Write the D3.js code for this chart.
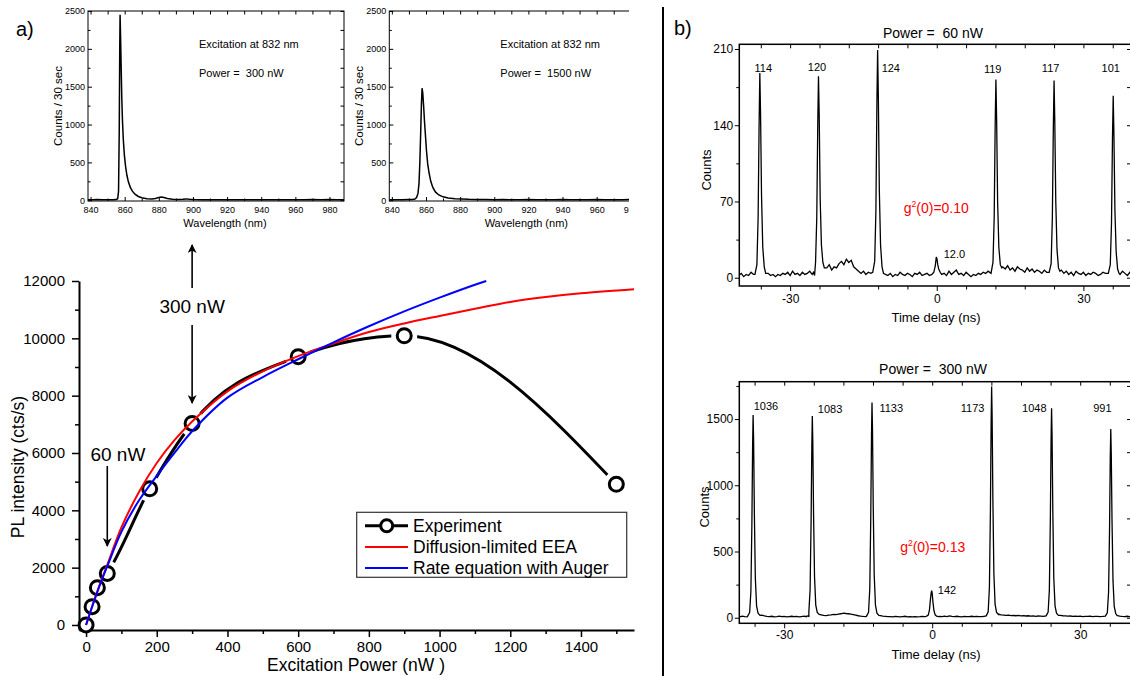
<!DOCTYPE html>
<html><head><meta charset="utf-8">
<script src="https://cdn.jsdelivr.net/npm/d3@7"></script>
<style>body{margin:0;background:#fff} text{font-family:"Liberation Sans",Arial,sans-serif;fill:#000;white-space:pre}</style>
</head><body><svg id="c" width="1130" height="676"></svg>
<script>
// ---------------- DATA ----------------
// Main panel a): PL intensity vs excitation power
const expPower = [0, 17, 32, 60, 180, 300, 600, 900, 1500];
const expPL    = [0, 640, 1300, 1800, 4750, 7030, 9360, 10090, 4910];
const eeaPower = [0, 20, 40, 60, 100, 150, 200, 250, 300, 400, 500, 600, 700, 800, 900, 1000, 1100, 1200, 1300, 1400, 1550];
const eeaPL    = [0, 750, 1450, 2100, 3400, 4650, 5650, 6450, 7100, 8150, 8850, 9380, 9820, 10220, 10520, 10780, 11030, 11270, 11440, 11570, 11710];
const augPower = [0, 20, 40, 60, 100, 150, 200, 250, 300, 400, 500, 600, 700, 800, 900, 1000, 1100, 1132];
const augPL    = [0, 740, 1430, 2050, 3250, 4350, 5200, 6000, 6760, 7930, 8650, 9270, 9860, 10420, 10940, 11420, 11870, 12000];
const powerTicks = [0, 200, 400, 600, 800, 1000, 1200, 1400];
const powerMinor = [100, 300, 500, 700, 900, 1100, 1300, 1500];
const plTicks = [0, 2000, 4000, 6000, 8000, 10000, 12000];
const plMinor = [1000, 3000, 5000, 7000, 9000, 11000];
const legendLabels = ["Experiment", "Diffusion-limited EEA", "Rate equation with Auger"];

// Inset spectra [wavelength nm, counts / 30 s]
const spec300 = [[838.5,8],[841,6],[844,9],[847,5],[850,8],[853,6],[855,9],[855.9,20],[856.4,120],[856.8,900],[857.1,2000],[857.3,2450],[857.6,2150],[857.9,1800],[858.3,1350],[858.7,1050],[859.2,800],[859.8,600],[860.5,450],[861.3,330],[862.2,240],[863.3,170],[864.5,120],[866,80],[868,50],[870,32],[873,20],[876,15],[878,22],[880,35],[881.5,42],[883,36],[885,22],[888,12],[891,10],[894,14],[896,18],[898,12],[901,9],[905,7],[910,8],[915,6],[920,8],[925,7],[930,5],[935,8],[940,6],[945,7],[950,5],[955,8],[960,6],[965,7],[970,9],[975,6],[980,10],[984,7],[988.5,6]];
const spec1500 = [[838.5,5],[842,8],[846,6],[850,9],[852,10],[853.5,16],[854.5,35],[855.3,90],[855.9,220],[856.4,500],[856.9,900],[857.3,1250],[857.7,1480],[858.1,1420],[858.6,1250],[859.1,1050],[859.7,850],[860.3,650],[861,480],[861.8,360],[862.8,250],[864,170],[865.5,110],[867.5,70],[870,45],[873,30],[877,20],[881,18],[885,12],[890,10],[895,9],[900,8],[905,9],[910,7],[915,8],[920,9],[925,7],[930,8],[935,6],[940,9],[945,7],[950,8],[955,6],[960,9],[965,7],[970,8],[975,6],[980,9],[988.5,7]];
const wlTicks = [840, 860, 880, 900, 920, 940, 960, 980];
const wlMinor = [850, 870, 890, 910, 930, 950, 970];
const cntTicks = [0, 500, 1000, 1500, 2000, 2500];
const cntMinor = [250, 750, 1250, 1750, 2250];
const insetPowers = ["300", "1500"];

// Panel b): coincidence histograms. Noise segments: [start ns, values every 0.5 ns]
const topNoise = [
  [-40.5, [2,4,1,3,2,5,3]],
  [-34.5, [4,2,3,1,3,2,4,3,5,2,6,3,4,2,5,3,4,6,3,2]],
  [-22.5, [9,12,7,10,9,13,15,12,17,14,16,10,8,6,4,6,3,5,4]],
  [-10.5, [3,2,4,1,3,2,5,3,2,4,3,1,4,3,5,2,3,4,2]],
  [1.5,   [4,2,6,3,5,7,3,4,2,5,3,1,3,2,4,3,5,4,6]],
  [13.5,  [10,8,11,7,9,6,10,8,7,5,9,6,8,5,7,6,4,7,5]],
  [25.5,  [7,4,6,3,5,2,6,4,3,5,2,4,3,5,4,2,3,5,4]],
  [37.5,  [3,6,4,2,5,3,4]]
];
const topPeaks = [
  [[-37.2,3],[-36.8,12],[-36.55,55],[-36.35,140],[-36.2,188],[-36.05,150],[-35.85,75],[-35.6,28],[-35.3,10],[-35.0,4]],
  [[-25.2,5],[-24.8,14],[-24.55,55],[-24.35,140],[-24.2,185],[-24.05,148],[-23.85,72],[-23.6,30],[-23.3,14],[-23.0,9]],
  [[-13.1,5],[-12.7,15],[-12.45,62],[-12.25,160],[-12.1,209],[-11.95,165],[-11.75,80],[-11.5,30],[-11.2,10],[-10.9,4]],
  [[-1.0,3],[-0.6,5],[-0.3,11],[-0.1,19],[0.05,17],[0.2,12],[0.4,8],[0.7,5],[1.0,3]],
  [[11.1,4],[11.5,14],[11.75,55],[11.95,140],[12.1,182],[12.25,145],[12.45,70],[12.7,28],[13.0,12],[13.3,9]],
  [[23.0,5],[23.4,13],[23.65,55],[23.85,138],[24.0,181],[24.15,143],[24.35,70],[24.6,26],[24.9,9],[25.2,6]],
  [[35.1,4],[35.5,12],[35.75,50],[35.95,128],[36.1,167],[36.25,130],[36.45,62],[36.7,24],[37.0,8],[37.3,4]]
];
const botNoise = [
  [-40.0, [8,10,6,12,9,7]],
  [-34.5, [20,14,10,8,11,7,9,12,8,10,7,9,11,8,10,6,9,12,8,10]],
  [-22.5, [22,18,16,20,22,25,24,28,30,35,32,30,27,24,20,15,12,10,9]],
  [-10.5, [16,12,10,8,9,7,10,8,6,9,11,7,8,6,9,7,8,10,9]],
  [1.5,   [10,8,12,9,14,10,8,11,9,7,10,8,9,11,8,10,9,8,11]],
  [13.5,  [26,22,20,18,19,16,17,15,18,14,16,13,15,12,14,11,13,12,10]],
  [25.5,  [22,18,15,14,12,13,11,12,10,12,9,11,10,12,9,10,11,9,10]],
  [37.5,  [16,12,10,9,11,8,9]]
];
const botPeaks = [
  [[-37.4,12],[-37.0,40],[-36.75,200],[-36.55,700],[-36.4,1300],[-36.3,1531],[-36.2,1350],[-36.05,800],[-35.85,300],[-35.6,90],[-35.3,35],[-34.9,18]],
  [[-25.4,14],[-25.0,45],[-24.75,210],[-24.55,720],[-24.4,1290],[-24.3,1523],[-24.2,1330],[-24.05,790],[-23.85,310],[-23.6,95],[-23.3,40],[-22.9,25]],
  [[-13.3,12],[-12.9,42],[-12.65,220],[-12.45,760],[-12.3,1380],[-12.2,1624],[-12.1,1420],[-11.95,840],[-11.75,320],[-11.5,95],[-11.2,35],[-10.8,18]],
  [[-1.2,10],[-0.8,20],[-0.55,60],[-0.35,140],[-0.2,190],[-0.1,204],[0.0,185],[0.15,120],[0.35,55],[0.6,22],[0.9,12],[1.3,8]],
  [[10.95,14],[11.35,45],[11.6,230],[11.8,800],[11.95,1480],[12.05,1745],[12.15,1520],[12.3,900],[12.5,340],[12.75,100],[13.05,40],[13.45,24]],
  [[23.1,14],[23.5,42],[23.75,210],[23.95,740],[24.1,1340],[24.2,1581],[24.3,1380],[24.45,810],[24.65,300],[24.9,90],[25.2,35],[25.6,18]],
  [[35.1,12],[35.5,38],[35.75,190],[35.95,660],[36.1,1220],[36.2,1425],[36.3,1240],[36.45,740],[36.65,280],[36.9,85],[37.2,32],[37.6,16]]
];
const topLabels = ["114","120","124","12.0","119","117","101"];
const topLabelT = [-35.5, -24.5, -9.4, 3.6, 11.45, 23.3, 35.6];
const topLabelC = [189, 190, 189, 18, 188, 189, 189];
const botLabels = ["1036","1083","1133","142","1173","1048","991"];
const botLabelT = [-33.7, -20.7, -8.3, 3.0, 8.2, 20.7, 34.5];
const botLabelC = [1569, 1546, 1553, 179, 1553, 1553, 1553];
const delayTicks = [-30, 0, 30];
const delayMinor = [-36, -24, -18, -12, -6, 6, 12, 18, 24, 36];
const topCntTicks = [0, 70, 140, 210];
const topCntMinor = [35, 105, 175];
const botCntTicks = [0, 500, 1000, 1500];
const botCntMinor = [250, 750, 1250, 1750];
const g2Values = ["0.10", "0.13"];
const histPowers = ["60", "300"];

// ---------------- DRAW ----------------
const svg = d3.select('#c');
svg.append('rect').attr('width',1130).attr('height',676).attr('fill','#fff');
const defs = svg.append('defs');
const FONT = '"Liberation Sans",Arial,sans-serif';
const plain = d => String(d);

function styleAxis(g, sw, tw, fs){
  g.select('.domain').attr('stroke','#000').attr('stroke-width',sw);
  g.selectAll('.tick line').attr('stroke','#000').attr('stroke-width',tw);
  g.selectAll('.tick text').attr('font-size',fs).attr('font-family',FONT).attr('fill','#000');
  g.attr('font-family',FONT);
}
function txt(g, x, y, s, fs, anchor, extra){
  const t = g.append('text').attr('x',x).attr('y',y).attr('font-size',fs).attr('text-anchor',anchor||'start')
    .attr('xml:space','preserve').text(s);
  if(extra) extra(t);
  return t;
}

// ---- Main panel a) ----
const mx = d3.scaleLinear().domain([-20,1550]).range([79,634]);
const my = d3.scaleLinear().domain([-175,12000]).range([630,281]);
const mainG = svg.append('g');

const xa = mainG.append('g').attr('transform','translate(0,630)')
  .call(d3.axisBottom(mx).tickValues(powerTicks).tickFormat(plain).tickSize(7).tickSizeOuter(0).tickPadding(4));
styleAxis(xa, 2, 1.5, 15);
const xam = mainG.append('g').attr('transform','translate(0,630)')
  .call(d3.axisBottom(mx).tickValues(powerMinor).tickSize(4).tickSizeOuter(0).tickFormat(''));
styleAxis(xam, 0, 1.5, 15); xam.select('.domain').remove();
const ya = mainG.append('g').attr('transform','translate(79,0)')
  .call(d3.axisLeft(my).tickValues(plTicks).tickFormat(plain).tickSize(7).tickSizeOuter(0).tickPadding(7));
styleAxis(ya, 2, 1.5, 15);
const yam = mainG.append('g').attr('transform','translate(79,0)')
  .call(d3.axisLeft(my).tickValues(plMinor).tickSize(4).tickSizeOuter(0).tickFormat(''));
styleAxis(yam, 0, 1.5, 15); yam.select('.domain').remove();

txt(mainG, 356, 671, 'Excitation Power (nW )', 17.5, 'middle');
txt(mainG, 0, 0, 'PL intensity (cts/s)', 17.5, 'middle', t=>t.attr('transform','translate(24,467) rotate(-90)'));

const expPts = expPower.map((p,i)=>[p, expPL[i]]);
const mask = defs.append('mask').attr('id','gapmask').attr('maskUnits','userSpaceOnUse')
  .attr('x',0).attr('y',0).attr('width',1130).attr('height',676);
mask.append('rect').attr('width',1130).attr('height',676).attr('fill','#fff');
mask.selectAll('circle').data(expPts).join('circle')
  .attr('cx',d=>mx(d[0])).attr('cy',d=>my(d[1])).attr('r',13).attr('fill','#000');

const lineM = d3.line().x(d=>mx(d[0])).y(d=>my(d[1])).curve(d3.curveMonotoneX);
mainG.append('path').datum(expPts).attr('d',lineM).attr('fill','none').attr('stroke','#000')
  .attr('stroke-width',3).attr('mask','url(#gapmask)');
mainG.selectAll('circle.exp').data(expPts).join('circle').attr('class','exp')
  .attr('cx',d=>mx(d[0])).attr('cy',d=>my(d[1])).attr('r',7)
  .attr('fill','#fff').attr('stroke','#000').attr('stroke-width',3);
const lineS = d3.line().x(d=>mx(d[0])).y(d=>my(d[1])).curve(d3.curveCatmullRom);
mainG.append('path').datum(eeaPower.map((p,i)=>[p,eeaPL[i]])).attr('d',lineS)
  .attr('fill','none').attr('stroke','#ff0000').attr('stroke-width',2);
mainG.append('path').datum(augPower.map((p,i)=>[p,augPL[i]])).attr('d',lineS)
  .attr('fill','none').attr('stroke','#0000ff').attr('stroke-width',2);

// annotations: arrows
const arrowM = defs.append('marker').attr('id','arr').attr('viewBox','0 0 10 10').attr('refX',9).attr('refY',5)
  .attr('markerWidth',9).attr('markerHeight',9).attr('markerUnits','userSpaceOnUse').attr('orient','auto');
arrowM.append('path').attr('d','M0,0 L10,5 L0,10 L3,5 Z').attr('fill','#000');
function arrow(x,y1,y2){
  mainG.append('line').attr('x1',x).attr('x2',x).attr('y1',y1).attr('y2',y2)
    .attr('stroke','#000').attr('stroke-width',1.6).attr('marker-end','url(#arr)');
}
txt(mainG, mx(90), 461, '60 nW', 19, 'middle');
arrow(mx(60), 466, 546);
txt(mainG, mx(300), 313, '300 nW', 19, 'middle');
arrow(mx(300), 325, 403);
arrow(mx(300), 288, 245);

// legend
const lg = mainG.append('g');
lg.append('rect').attr('x',356.7).attr('y',512.3).attr('width',270).attr('height',65)
  .attr('fill','#fff').attr('stroke','#333').attr('stroke-width',1.2);
const legColors = ['#000','#ff0000','#0000ff'];
legendLabels.forEach((s,i)=>{
  const cy = 525.7 + i*21.2;
  lg.append('line').attr('x1',365).attr('x2',408).attr('y1',cy).attr('y2',cy)
    .attr('stroke',legColors[i]).attr('stroke-width', i===0?3:2);
  if(i===0) lg.append('circle').attr('cx',386.7).attr('cy',cy).attr('r',6).attr('fill','#fff').attr('stroke','#000').attr('stroke-width',3);
  txt(lg, 413, cy+6.2, s, 17.5, 'start');
});

txt(svg, 16, 36, 'a)', 20, 'start');
txt(svg, 674, 35, 'b)', 20, 'start');
svg.append('line').attr('x1',663).attr('x2',663).attr('y1',7).attr('y2',676).attr('stroke','#000').attr('stroke-width',2);

// ---- Insets ----
function inset(left, data, power, clipId){
  const ix = d3.scaleLinear().domain([838.5,988.5]).range([left, left+256]);
  const iy = d3.scaleLinear().domain([-10,2500]).range([201,11]);
  const g = svg.append('g');
  const cp = defs.append('clipPath').attr('id',clipId);
  cp.append('rect').attr('x',left).attr('y',11).attr('width',Math.min(256, 629-left)).attr('height',190);
  const outer = defs.append('clipPath').attr('id',clipId+'o');
  outer.append('rect').attr('x',0).attr('y',0).attr('width',629).attr('height',240);
  const gg = g.append('g').attr('clip-path','url(#'+clipId+'o)');
  gg.append('path').datum(data).attr('d', d3.line().x(d=>ix(d[0])).y(d=>iy(d[1])))
    .attr('fill','none').attr('stroke','#000').attr('stroke-width',1.5).attr('clip-path','url(#'+clipId+')');
  gg.append('rect').attr('x',left).attr('y',11).attr('width',256).attr('height',190)
    .attr('fill','none').attr('stroke','#000').attr('stroke-width',1);
  const bx = gg.append('g').attr('transform','translate(0,201)')
    .call(d3.axisBottom(ix).tickValues(wlTicks).tickFormat(plain).tickSize(-4).tickSizeOuter(0).tickPadding(5.5));
  styleAxis(bx, 0, 1, 9);
  const bxm = gg.append('g').attr('transform','translate(0,201)')
    .call(d3.axisBottom(ix).tickValues(wlMinor).tickSize(-2.5).tickSizeOuter(0).tickFormat(''));
  styleAxis(bxm, 0, 1, 9);
  const tx = gg.append('g').attr('transform','translate(0,11)')
    .call(d3.axisTop(ix).tickValues(wlTicks.concat(wlMinor)).tickSize(-3.5).tickSizeOuter(0).tickFormat(''));
  styleAxis(tx, 0, 1, 9);
  const ly = gg.append('g').attr('transform','translate('+left+',0)')
    .call(d3.axisLeft(iy).tickValues(cntTicks).tickFormat(plain).tickSize(-4).tickSizeOuter(0).tickPadding(3));
  styleAxis(ly, 0, 1, 9);
  const lym = gg.append('g').attr('transform','translate('+left+',0)')
    .call(d3.axisLeft(iy).tickValues(cntMinor).tickSize(-2.5).tickSizeOuter(0).tickFormat(''));
  styleAxis(lym, 0, 1, 9);
  const ry = gg.append('g').attr('transform','translate('+(left+256)+',0)')
    .call(d3.axisRight(iy).tickValues(cntTicks.concat(cntMinor)).tickSize(-3.5).tickSizeOuter(0).tickFormat(''));
  styleAxis(ry, 0, 1, 9);
  gg.selectAll('.domain').remove();
  txt(gg, left+137, 226.5, 'Wavelength (nm)', 11, 'middle');
  txt(gg, 0, 0, 'Counts / 30 sec', 11.5, 'middle', t=>t.attr('transform','translate('+(left-26)+',106) rotate(-90)'));
  txt(gg, left+111, 48, 'Excitation at 832 nm', 11, 'start');
  txt(gg, left+111, 77, 'Power =  '+power+' nW', 11, 'start');
}
inset(88, spec300, insetPowers[0], 'cl1');
inset(389.3, spec1500, insetPowers[1], 'cl2');

// ---- Histograms ----
function buildSeries(noise, peaks){
  const pts = [];
  noise.forEach(([t0, vals])=>vals.forEach((v,i)=>pts.push([t0 + i*0.5, v])));
  peaks.forEach(p=>p.forEach(d=>pts.push(d)));
  pts.sort((a,b)=>a[0]-b[0]);
  return pts;
}
function hist(cfg){
  const hx = d3.scaleLinear().domain(cfg.xd).range([739.3,1131]);
  const hy = d3.scaleLinear().domain(cfg.yd).range([cfg.bottom, cfg.top]);
  const g = svg.append('g');
  const id = 'hc'+cfg.id;
  defs.append('clipPath').attr('id',id).append('rect').attr('x',739.3).attr('y',cfg.top).attr('width',392).attr('height',cfg.bottom-cfg.top);
  g.append('path').datum(buildSeries(cfg.noise, cfg.peaks))
    .attr('d', d3.line().x(d=>hx(d[0])).y(d=>hy(d[1])))
    .attr('fill','none').attr('stroke','#000').attr('stroke-width',1.3).attr('clip-path','url(#'+id+')');
  g.append('rect').attr('x',739.3).attr('y',cfg.top).attr('width',391.7).attr('height',cfg.bottom-cfg.top)
    .attr('fill','none').attr('stroke','#000').attr('stroke-width',1.5);
  const bx = g.append('g').attr('transform','translate(0,'+cfg.bottom+')')
    .call(d3.axisBottom(hx).tickValues(delayTicks).tickFormat(plain).tickSize(5).tickSizeOuter(0).tickPadding(cfg.xpad));
  styleAxis(bx, 0, 1, 12);
  const bxm = g.append('g').attr('transform','translate(0,'+cfg.bottom+')')
    .call(d3.axisBottom(hx).tickValues(delayMinor).tickSize(3.5).tickSizeOuter(0).tickFormat(''));
  styleAxis(bxm, 0, 1, 12);
  const tx = g.append('g').attr('transform','translate(0,'+cfg.top+')')
    .call(d3.axisTop(hx).tickValues(delayTicks.concat(delayMinor)).tickSize(-4).tickSizeOuter(0).tickFormat(''));
  styleAxis(tx, 0, 1, 12);
  const ly = g.append('g').attr('transform','translate(739.3,0)')
    .call(d3.axisLeft(hy).tickValues(cfg.yt).tickFormat(plain).tickSize(4.5).tickSizeOuter(0).tickPadding(1.5));
  styleAxis(ly, 0, 1, 12);
  const lym = g.append('g').attr('transform','translate(739.3,0)')
    .call(d3.axisLeft(hy).tickValues(cfg.ym).tickSize(3).tickSizeOuter(0).tickFormat(''));
  styleAxis(lym, 0, 1, 12);
  const ry = g.append('g').attr('transform','translate(1131,0)')
    .call(d3.axisRight(hy).tickValues(cfg.yt.concat(cfg.ym)).tickSize(-4).tickSizeOuter(0).tickFormat(''));
  styleAxis(ry, 0, 1, 12);
  g.selectAll('.domain').remove();
  cfg.labels.forEach((s,i)=>txt(g, hx(cfg.lt[i]), hy(cfg.lc[i]), s, 11, 'middle'));
  const gt = txt(g, hx(cfg.g2[0]), hy(cfg.g2[1]), '', 14, 'middle');
  gt.attr('fill','#ff0000').style('fill','#ff0000');
  gt.append('tspan').text('g');
  gt.append('tspan').attr('font-size',8.5).attr('dy',-6).text('2');
  gt.append('tspan').attr('dy',6).text('(0)='+cfg.g2v);
  txt(g, 933, cfg.titleY, 'Power =  '+cfg.power+' nW', 14, 'middle');
  txt(g, 936, cfg.xlabY, 'Time delay (ns)', 13, 'middle');
  txt(g, 0, 0, 'Counts', 13, 'middle', t=>t.attr('transform','translate('+cfg.ylabX+','+cfg.ylabY+') rotate(-90)'));
}
hist({id:1, xd:[-40.4,39.74], yd:[-7.6,214.3], top:44.3, bottom:286, noise:topNoise, peaks:topPeaks,
  yt:topCntTicks, ym:topCntMinor, xpad:3, labels:topLabels, lt:topLabelT, lc:topLabelC,
  g2:[-0.1,59.4], g2v:g2Values[0], power:histPowers[0], titleY:37.5, xlabY:322, ylabX:711, ylabY:170});
hist({id:2, xd:[-39.1,40.3], yd:[-42,1782], top:381.7, bottom:623.3, noise:botNoise, peaks:botPeaks,
  yt:botCntTicks, ym:botCntMinor, xpad:2, labels:botLabels, lt:botLabelT, lc:botLabelC,
  g2:[0.1,500], g2v:g2Values[1], power:histPowers[1], titleY:374, xlabY:659, ylabX:709, ylabY:507});
</script></body></html>
